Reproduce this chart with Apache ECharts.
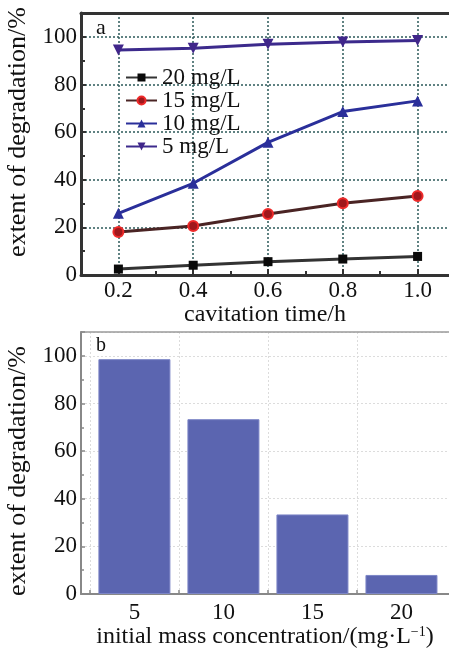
<!DOCTYPE html>
<html>
<head>
<meta charset="utf-8">
<script src="https://cdn.jsdelivr.net/npm/echarts@6/dist/echarts.min.js"></script>
<style>html,body{margin:0;padding:0;background:#fff}#c{width:449px;height:648px}</style>
</head>
<body>
<div id="c"></div>
<script>
// ---- data ----
const timeH = [0.2, 0.4, 0.6, 0.8, 1.0];
const timeMinorTicks = [0.3, 0.5, 0.7, 0.9];
const seriesNames = ['20 mg/L', '15 mg/L', '10 mg/L', '5 mg/L'];
const deg20 = [2.5, 4.1, 5.6, 6.7, 7.8];
const deg15 = [18.1, 20.6, 25.6, 30.1, 33.2];
const deg10 = [25.9, 38.5, 55.7, 68.6, 73.1];
const deg5 = [94.5, 95.2, 96.9, 97.8, 98.5];
const concentrations = [5, 10, 15, 20];
const concBoundaries = [2.5, 7.5, 12.5, 17.5];
const degAt1h = [98.6, 73.4, 33.4, 8.0];

const FONT = 'Liberation Serif';
const pairs = (xs, ys) => xs.map((x, i) => [x, ys[i]]);

const chart = echarts.init(document.getElementById('c'), null, {renderer: 'canvas'});
const dotted = (c, w) => ({show: true, lineStyle: {type: [2, 2], color: c, width: w}});
const label = (extra) => Object.assign({fontFamily: FONT, fontSize: 23, color: '#111'}, extra);
const borderAxis = (grid, min, max, color, width) => ({
  gridIndex: grid, type: 'value', min: min, max: max, position: 'top',
  axisLine: {show: true, lineStyle: {color: color, width: width}},
  axisTick: {show: false}, axisLabel: {show: false}, splitLine: {show: false}
});

const X1MAX = 1.084, X2MAX = 22.67;

chart.setOption({
  animation: false,
  backgroundColor: '#fff',
  grid: [
    {left: 81, top: 13, right: 0, bottom: 373, outerBoundsMode: 'none', containLabel: false},
    {left: 81, top: 332, right: 0, bottom: 54, outerBoundsMode: 'none', containLabel: false}
  ],
  legend: {
    data: seriesNames,
    orient: 'vertical',
    left: 120, top: 61,
    itemWidth: 31, itemHeight: 10, itemGap: 0,
    textStyle: {fontFamily: FONT, fontSize: 23, color: '#111'}
  },
  xAxis: [
    {
      gridIndex: 0, type: 'value', min: 0.1, max: X1MAX, position: 'bottom',
      axisLine: {show: true, lineStyle: {color: '#333', width: 3}},
      axisTick: {show: true, customValues: timeH, inside: true, length: 6, lineStyle: {color: '#333', width: 2}},
      axisLabel: label({customValues: timeH, formatter: v => v.toFixed(1), margin: 4}),
      splitLine: dotted('#2d5a5a', 1.5),
      name: 'cavitation time/h', nameLocation: 'middle', nameGap: 27,
      nameTextStyle: {fontFamily: FONT, fontSize: 24, color: '#111'}
    },
    {
      gridIndex: 0, type: 'value', min: 0.1, max: X1MAX, position: 'bottom',
      axisLine: {show: false},
      axisTick: {show: true, customValues: timeMinorTicks, inside: true, length: 4, lineStyle: {color: '#333', width: 2}},
      axisLabel: {show: false},
      splitLine: {show: false}
    },
    borderAxis(0, 0.1, X1MAX, '#333', 3),
    {
      gridIndex: 1, type: 'value', min: 2, max: X2MAX, position: 'bottom',
      axisLine: {show: true, lineStyle: {color: '#888', width: 2}},
      axisTick: {show: true, customValues: concBoundaries, inside: true, length: 4, lineStyle: {color: '#888', width: 1.5}},
      axisLabel: label({customValues: concentrations, margin: 7}),
      splitLine: dotted('#dcdcdc', 1),
      name: 'initial mass concentration/(mg·L{sup|−1})', nameLocation: 'middle', nameGap: 30,
      nameTextStyle: {fontFamily: FONT, fontSize: 24, color: '#111',
        rich: {sup: {fontFamily: FONT, fontSize: 14, color: '#111', verticalAlign: 'top', padding: [0, 0, 10, 0]}}}
    },
    borderAxis(1, 2, X2MAX, '#9a9a9a', 1.5)
  ],
  yAxis: [
    {
      gridIndex: 0, type: 'value', min: 0, max: 110, interval: 20,
      axisLine: {show: true, lineStyle: {color: '#333', width: 3}},
      axisTick: {show: true, inside: true, length: 5, lineStyle: {color: '#333', width: 2}},
      minorTick: {show: true, splitNumber: 2, length: 4, lineStyle: {color: '#333', width: 2}},
      axisLabel: label({showMaxLabel: false, margin: 4}),
      splitLine: dotted('#2d5a5a', 1.5),
      name: 'extent of degradation/%', nameLocation: 'middle', nameGap: 46,
      nameTextStyle: {fontFamily: FONT, fontSize: 26, color: '#111', padding: [0, 0, 0, 24]}
    },
    {
      gridIndex: 1, type: 'value', min: 0, max: 110, interval: 20,
      axisLine: {show: true, lineStyle: {color: '#888', width: 2}},
      axisTick: {show: true, inside: true, length: 4, lineStyle: {color: '#888', width: 1.5}},
      minorTick: {show: true, splitNumber: 2, length: 3, lineStyle: {color: '#888', width: 1.5}},
      axisLabel: label({showMaxLabel: false, margin: 4}),
      splitLine: dotted('#dcdcdc', 1),
      name: 'extent of degradation/%', nameLocation: 'middle', nameGap: 46,
      nameTextStyle: {fontFamily: FONT, fontSize: 26, color: '#111', padding: [0, 16, 0, 0]}
    }
  ],
  graphic: [
    {type: 'text', left: 96, top: 17, style: {text: 'a', font: '22px "Liberation Serif"', fill: '#111'}},
    {type: 'text', left: 96, top: 336, style: {text: 'b', font: '20px "Liberation Serif"', fill: '#111'}}
  ],
  series: [
    {name: seriesNames[0], type: 'line', xAxisIndex: 0, yAxisIndex: 0, data: pairs(timeH, deg20),
     symbol: 'rect', symbolSize: 9, itemStyle: {color: '#0a0a0a'}, lineStyle: {color: '#333', width: 3}},
    {name: seriesNames[1], type: 'line', xAxisIndex: 0, yAxisIndex: 0, data: pairs(timeH, deg15),
     symbol: 'circle', symbolSize: 10, itemStyle: {color: '#a0181c', borderColor: '#ee2a2a', borderWidth: 2},
     lineStyle: {color: '#4a2424', width: 3}},
    {name: seriesNames[2], type: 'line', xAxisIndex: 0, yAxisIndex: 0, data: pairs(timeH, deg10),
     symbol: 'triangle', symbolSize: 11, itemStyle: {color: '#2a2f9a'}, lineStyle: {color: '#2a2f9a', width: 3}},
    {name: seriesNames[3], type: 'line', xAxisIndex: 0, yAxisIndex: 0, data: pairs(timeH, deg5),
     symbol: 'triangle', symbolRotate: 180, symbolSize: 11, itemStyle: {color: '#40268a'},
     lineStyle: {color: '#3c2a8c', width: 3}},
    {name: 'b', type: 'bar', xAxisIndex: 3, yAxisIndex: 1, data: pairs(concentrations, degAt1h),
     barWidth: 72, itemStyle: {color: '#5b65b0', borderColor: '#7c85c6', borderWidth: 1}}
  ]
});
</script>
</body>
</html>
